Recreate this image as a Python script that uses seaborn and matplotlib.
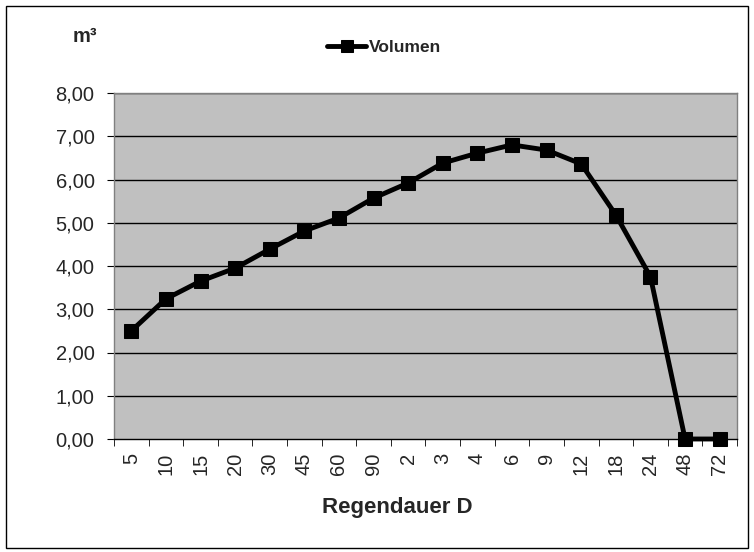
import matplotlib
matplotlib.use("Agg")
import matplotlib.pyplot as plt
import seaborn as sns
import pandas as pd
from matplotlib.patches import Rectangle
from matplotlib.ticker import FuncFormatter, FixedLocator

categories = ["5", "10", "15", "20", "30", "45", "60", "90", "2", "3", "4", "6", "9", "12", "18", "24", "48", "72"]
volumen = [2.50, 3.24, 3.65, 3.95, 4.39, 4.81, 5.11, 5.57, 5.92, 6.38, 6.61, 6.80, 6.68, 6.36, 5.18, 3.75, 0.0, 0.0]
yticks = [0, 1, 2, 3, 4, 5, 6, 7, 8]

sns.set_style("white")
plt.rcParams['font.family'] = ['Liberation Sans', 'DejaVu Sans']

df = pd.DataFrame({"pos": range(len(categories)), "Volumen": volumen})

fig = plt.figure(figsize=(7.54, 5.52), dpi=100)
ax = fig.add_axes([114/754, 1-439/552, 623/754, 346/552])
ax.set_facecolor("#C0C0C0")

sns.lineplot(data=df, x="pos", y="Volumen", ax=ax, color="black", linewidth=3.5,
             marker="s", markersize=10, markeredgecolor="black", label="Volumen", zorder=5)
for ln in ax.lines:
    ln.set_clip_on(False)

ax.set_xlim(-0.5, len(categories) - 0.5)
ax.set_ylim(0, 8)
ax.set_yticks(yticks)
ax.yaxis.set_major_formatter(FuncFormatter(lambda v, p: f"{v:.2f}".replace(".", ",")))
for y in yticks[1:]:
    ax.axhline(y, color="black", linewidth=1, zorder=1)

ax.set_xticks(range(len(categories)))
ax.set_xticklabels(categories, rotation=90, fontsize=14.5)
ax.xaxis.set_minor_locator(FixedLocator([i - 0.5 for i in range(len(categories) + 1)]))
ax.tick_params(axis="x", which="major", length=0, pad=10)
ax.tick_params(axis="x", which="minor", length=5, direction="out", color="black", bottom=True)
ax.tick_params(axis="y", length=5, direction="out", color="black", left=True, labelsize=14.5, pad=9)

for s in ax.spines.values():
    s.set_color("#808080")
    s.set_linewidth(1)
ax.spines["bottom"].set_color("black")

ax.set_xlabel("")
ax.set_ylabel("")
fig.text(397/754, 1-507/552, "Regendauer D", fontsize=16, fontweight="bold", ha="center", va="center")
fig.text(85/754, 1-36/552, "m³", fontsize=14.5, fontweight="bold", ha="center", va="center")

leg = ax.legend(loc="center left", bbox_to_anchor=(327/754, 1-47/552), bbox_transform=fig.transFigure,
                frameon=False, prop={"weight": "bold", "size": 12.5}, handlelength=2.25, handletextpad=0.15,
                markerscale=0.8, borderpad=0, borderaxespad=0)

fig.patches.append(Rectangle((6/754, 4/552), 742/754, 542/552, transform=fig.transFigure,
                             fill=False, edgecolor="black", linewidth=1))

fig.savefig("out.png", dpi=100)
